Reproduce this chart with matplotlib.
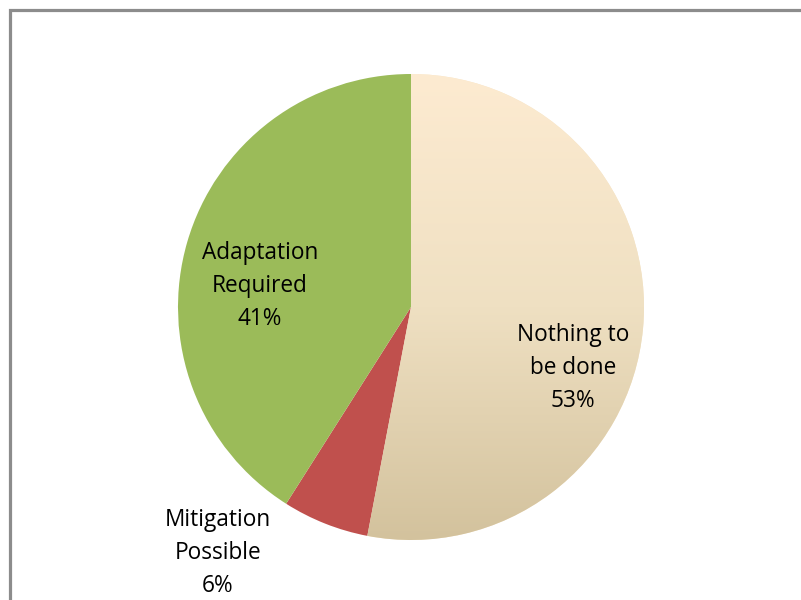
import matplotlib
matplotlib.use("Agg")
import matplotlib.pyplot as plt
import numpy as np
from matplotlib.patches import Rectangle
from matplotlib.colors import LinearSegmentedColormap

# data
labels = ["Nothing to\nbe done", "Mitigation\nPossible", "Adaptation\nRequired"]
shares = [53, 6, 41]
colors = ["#F7E6C8", "#C0504D", "#9BBB59"]

plt.rcParams['font.family'] = ['Open Sans', 'DejaVu Sans']

fig = plt.figure(figsize=(8.01, 6.0), dpi=100)
ax = fig.add_axes([0, 0, 1, 1])
ax.set_aspect("equal")

cx, cy, r = 411, 293, 233
wedges, _ = ax.pie(shares, colors=colors, startangle=90, counterclock=False,
                   center=(cx, cy), radius=r, frame=True)
ax.set_xlim(0, 801)
ax.set_ylim(0, 600)
ax.axis("off")

# gradient fill for the big slice
cmap = LinearSegmentedColormap.from_list("tan", ["#D3C29D", "#EFE0C2", "#FDEBD1"])
grad = np.linspace(0, 1, 256).reshape(-1, 1)
im = ax.imshow(grad, cmap=cmap, origin="lower", aspect="auto",
               extent=(cx - r, cx + r, cy - r, cy + r), zorder=1.5)
im.set_clip_path(wedges[0])

# labels
lab_pos = [(573, 232), (218, 47), (260, 314)]
for name, val, (x, y) in zip(labels, shares, lab_pos):
    ax.text(x, y, f"{name}\n{val}%", ha="center", va="center",
            fontsize=16.3, color="#000000", linespacing=1.5, zorder=3)

# chart frame
ax.add_patch(Rectangle((9.5, -20), 900, 600 - 9.5 + 20, fill=False,
                       edgecolor="#8C8C8C", linewidth=2.3, zorder=4))

fig.savefig("out.png", dpi=100)
